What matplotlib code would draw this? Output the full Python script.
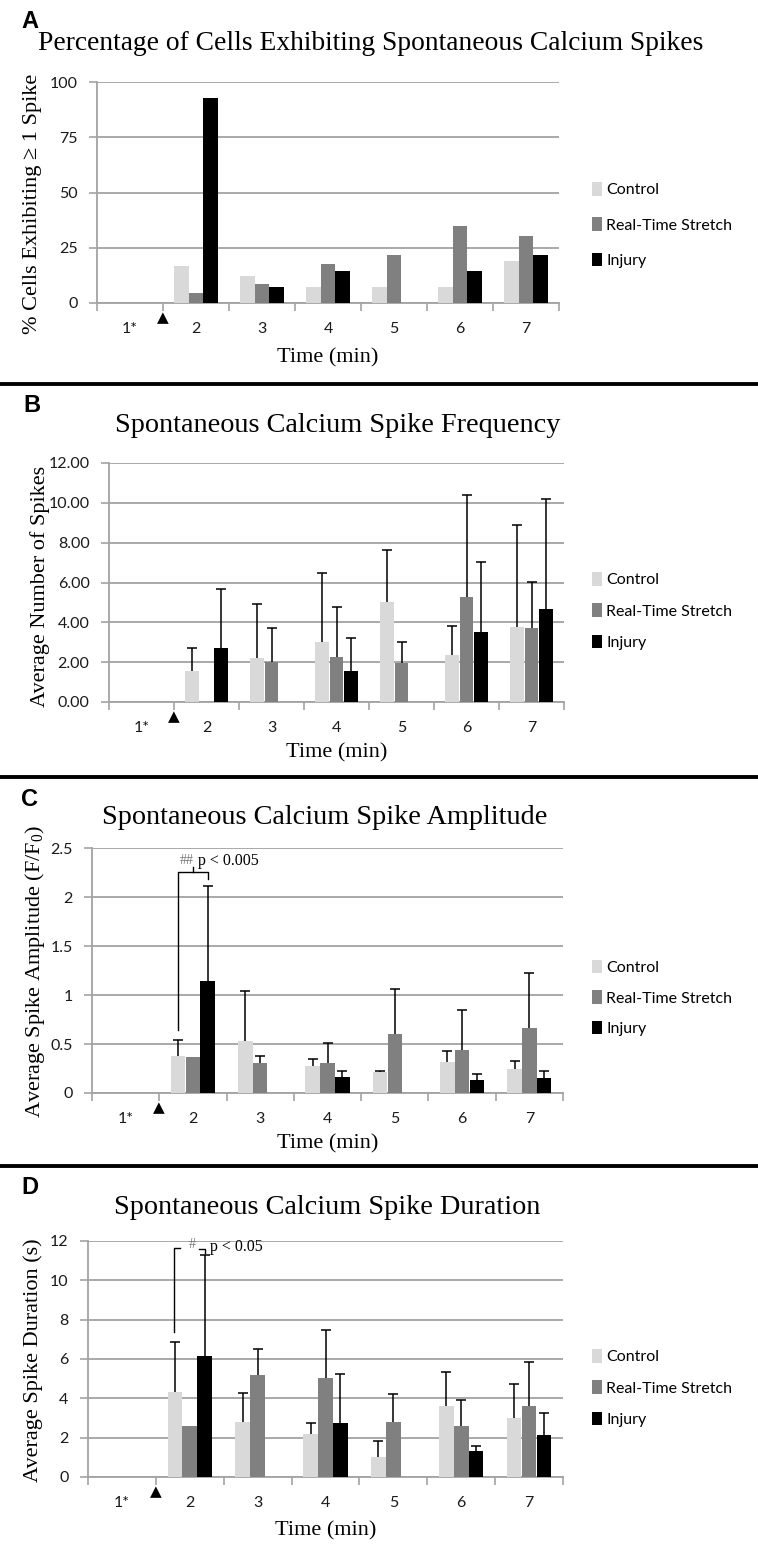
import numpy as np
import matplotlib
matplotlib.use('Agg')
import matplotlib.pyplot as plt
from matplotlib.lines import Line2D
from matplotlib.patches import Patch

plt.rcParams['mathtext.fontset'] = 'custom'
plt.rcParams['mathtext.rm'] = 'Liberation Serif'

W, H = 758, 1547
nan = np.nan

# --- data -------------------------------------------------------------
times = ['1*', '2', '3', '4', '5', '6', '7']
groups = ['Control', 'Real-Time Stretch', 'Injury']
colors = ['#d9d9d9', '#808080', '#000000']

# A: % cells with >= 1 spike
pct_control = [0, 16.7, 12.1, 7.2, 7.2, 7.2, 18.9]
pct_rts = [0, 4.5, 8.6, 17.5, 21.6, 34.8, 30.5]
pct_injury = [0, 92.9, 7.2, 14.5, 0, 14.5, 21.6]

# B: spike frequency (mean, upper SD)
freq_control = [0, 1.56, 2.21, 3.00, 5.00, 2.35, 3.78]
freq_control_sd = [nan, 1.17, 2.71, 3.48, 2.65, 1.49, 5.11]
freq_rts = [0, 0, 2.01, 2.25, 1.98, 5.25, 3.74]
freq_rts_sd = [nan, nan, 1.73, 2.53, 1.04, 5.12, 2.30]
freq_injury = [0, 2.70, 0, 1.56, 0, 3.50, 4.68]
freq_injury_sd = [nan, 2.99, nan, 1.63, nan, 3.55, 5.52]

# C: spike amplitude
amp_control = [0.005, 0.38, 0.53, 0.28, 0.21, 0.32, 0.24]
amp_control_sd = [nan, 0.16, 0.51, 0.07, 0.01, 0.11, 0.09]
amp_rts = [0.005, 0.37, 0.31, 0.31, 0.60, 0.44, 0.66]
amp_rts_sd = [nan, nan, 0.065, 0.20, 0.46, 0.41, 0.56]
amp_injury = [0.005, 1.14, 0, 0.16, 0, 0.13, 0.15]
amp_injury_sd = [nan, 0.97, nan, 0.06, nan, 0.06, 0.07]

# D: spike duration
dur_control = [0.02, 4.34, 2.79, 2.20, 1.00, 3.63, 2.99]
dur_control_sd = [nan, 2.53, 1.50, 0.54, 0.81, 1.69, 1.76]
dur_rts = [0.02, 2.57, 5.19, 5.03, 2.79, 2.57, 3.63]
dur_rts_sd = [nan, nan, 1.30, 2.42, 1.42, 1.37, 2.20]
dur_injury = [0.02, 6.15, 0, 2.74, 0, 1.30, 2.13]
dur_injury_sd = [nan, 5.15, nan, 2.51, nan, 0.27, 1.10]

SERIF = 'Liberation Serif'
SANS = ['Lato', 'DejaVu Sans']
GRID = '#a3a3a3'

fig = plt.figure(figsize=(W / 100, H / 100), dpi=100)


def fx(x):
    return x / W


def fy(y):
    return 1 - y / H


def make_panel(left, right, top, bottom, series, sds, ylim, yticks, yticklabels,
               ylabel, ylabel_xy, title, title_xy, title_size, letter, letter_xy,
               xlabel_y, legend_y, legend_gap):
    ax = fig.add_axes([fx(left), fy(bottom), (right - left) / W, (bottom - top) / H])
    x = np.arange(len(times))
    offs = [-0.22, 0, 0.22]
    for k in range(3):
        ax.bar(x + offs[k], series[k], width=0.215, color=colors[k], zorder=3)
        if sds is not None:
            sd = np.array(sds[k], dtype=float)
            m = np.isfinite(sd)
            vals = np.array(series[k])[m]
            eb = ax.errorbar(x[m] + offs[k], vals, yerr=[np.zeros(m.sum()), sd[m]],
                             fmt='none', ecolor='black', elinewidth=1.1, capsize=3.4,
                             capthick=1.1, zorder=4)
            # upper-only error bars: hide the cap sitting on the bar top
            eb[1][0].set_visible(False)
    ax.set_xlim(-0.5, 6.5)
    ax.set_ylim(*ylim)
    ax.set_yticks(yticks)
    ax.set_yticklabels(yticklabels, fontfamily=SANS, fontsize=11.5, color='#1a1a1a')
    ax.set_xticks(x)
    ax.set_xticklabels(times, fontfamily=SANS, fontsize=11.5, color='#1a1a1a')
    ax.set_xticks(np.arange(-0.5, 7, 1), minor=True)
    ax.tick_params(axis='x', which='major', length=0, pad=14)
    ax.tick_params(axis='x', which='minor', length=6, color=GRID, width=1.2)
    ax.tick_params(axis='y', length=6, color=GRID, width=1.2, pad=8)
    ax.yaxis.grid(True, color=GRID, lw=1.3)
    ax.set_axisbelow(True)
    for s in ['top', 'right']:
        ax.spines[s].set_visible(False)
    for s in ['left', 'bottom']:
        ax.spines[s].set_color(GRID)
        ax.spines[s].set_linewidth(1.3)

    ax.annotate('\u25B2', xy=(0.5, 0), xycoords=('data', 'axes fraction'),
                xytext=(0, -15), textcoords='offset pixels', ha='center',
                va='center', fontsize=11, color='black', family='DejaVu Sans')

    fig.text(fx(ylabel_xy[0]), fy(ylabel_xy[1]), ylabel, rotation=90, ha='center',
             va='center', family=SERIF, fontsize=16)
    fig.text(fx(title_xy[0]), fy(title_xy[1]), title, ha='center', va='center',
             family=SERIF, fontsize=title_size)
    fig.text(fx(letter_xy[0]), fy(letter_xy[1]), letter, ha='left', va='center',
             family='Liberation Sans', fontweight='bold', fontsize=17)
    fig.text(fx((left + right) / 2), fy(xlabel_y), 'Time (min)', ha='center',
             va='center', family=SERIF, fontsize=16)

    handles = [Patch(facecolor=c, edgecolor='none', label=g) for c, g in zip(colors, groups)]
    fig.legend(handles=handles, loc='center left', bbox_to_anchor=(fx(592), fy(legend_y)),
               bbox_transform=fig.transFigure, frameon=False,
               prop={'family': SANS, 'size': 11.5}, handlelength=0.6,
               handleheight=0.9, handletextpad=0.3, labelspacing=legend_gap,
               borderpad=0, borderaxespad=0)
    return ax


axA = make_panel(97, 559, 82, 303, [pct_control, pct_rts, pct_injury], None,
                 (0, 100), [0, 25, 50, 75, 100], ['0', '25', '50', '75', '100'],
                 '% Cells Exhibiting \u2265 1 Spike', (33, 204),
                 'Percentage of Cells Exhibiting Spontaneous Calcium Spikes', (371, 43), 19.8,
                 'A', (21, 22), 358, 225, 1.25)

axB = make_panel(109, 564, 463, 702, [freq_control, freq_rts, freq_injury],
                 [freq_control_sd, freq_rts_sd, freq_injury_sd],
                 (0, 12), np.arange(0, 13, 2), ['%.2f' % v for v in np.arange(0, 13, 2)],
                 'Average Number of Spikes', (40, 586),
                 'Spontaneous Calcium Spike Frequency', (338, 425), 20.3,
                 'B', (23, 405), 753, 611, 1.0)

axC = make_panel(92, 563, 848, 1093, [amp_control, amp_rts, amp_injury],
                 [amp_control_sd, amp_rts_sd, amp_injury_sd],
                 (0, 2.5), [0, 0.5, 1, 1.5, 2, 2.5], ['0', '0.5', '1', '1.5', '2', '2.5'],
                 r'Average Spike Amplitude (F/F$_\mathregular{0}$)', (35, 971),
                 'Spontaneous Calcium Spike Amplitude', (325, 817), 20.3,
                 'C', (21, 799), 1144, 998, 0.95)

axD = make_panel(88, 563, 1241, 1477, [dur_control, dur_rts, dur_injury],
                 [dur_control_sd, dur_rts_sd, dur_injury_sd],
                 (0, 12), np.arange(0, 13, 2), [str(v) for v in range(0, 13, 2)],
                 'Average Spike Duration (s)', (33, 1360),
                 'Spontaneous Calcium Spike Duration', (327, 1207), 20.3,
                 'D', (21, 1187), 1531, 1388, 1.0)

# significance brackets
axC.plot([0.78, 0.78, 1.22, 1.22], [0.64, 2.26, 2.26, 2.18], color='black', lw=1.0, zorder=5)
axC.plot([1.0, 1.0], [2.26, 2.31], color='black', lw=1.0, zorder=5)
axC.text(0.8, 2.37, '##', color='#777777', family=SERIF, fontsize=10, va='center')
axC.text(1.07, 2.37, 'p < 0.005', color='black', family=SERIF, fontsize=11.5, va='center')

axD.plot([0.77, 0.77, 0.86], [7.38, 11.64, 11.64], color='black', lw=1.0, zorder=5)
axD.plot([1.14, 1.23, 1.23], [11.6, 11.6, 11.4], color='black', lw=1.0, zorder=5)
axD.text(0.98, 11.8, '#', color='#777777', family=SERIF, fontsize=10, va='center')
axD.text(1.3, 11.7, 'p < 0.05', color='black', family=SERIF, fontsize=11.5, va='center')

# panel separators
for yy in [384, 777, 1166]:
    fig.add_artist(Line2D([0, 1], [fy(yy), fy(yy)], color='black', lw=2.8,
                          transform=fig.transFigure))

fig.savefig('out.png', dpi=100, facecolor='white')
